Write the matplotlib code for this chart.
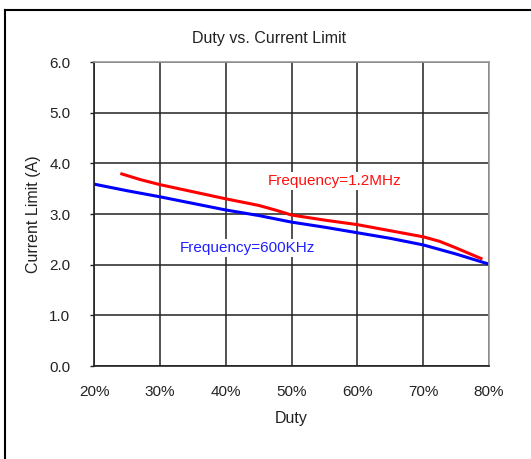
import matplotlib.pyplot as plt
from matplotlib.lines import Line2D
from matplotlib.ticker import FuncFormatter

plt.rcParams['font.family'] = ['Liberation Sans', 'DejaVu Sans']

# values
duty_600k = [20, 25, 30, 35, 40, 45, 50, 55, 60, 65, 70, 75, 80]
limit_600k = [3.59, 3.46, 3.34, 3.21, 3.08, 2.97, 2.84, 2.74, 2.63, 2.52, 2.39, 2.21, 2.01]

duty_1m2 = [24, 27, 30, 35, 40, 45, 47.5, 50, 55, 60, 65, 70, 72.5, 75, 79]
limit_1m2 = [3.80, 3.68, 3.58, 3.44, 3.30, 3.17, 3.08, 2.98, 2.88, 2.79, 2.67, 2.55, 2.46, 2.33, 2.11]

x_ticks = [20, 30, 40, 50, 60, 70, 80]
y_ticks = [0, 1, 2, 3, 4, 5, 6]

W, H = 531, 459
fig = plt.figure(figsize=(W / 100, H / 100), dpi=100)
ax = fig.add_axes([94 / W, 1 - 366 / H, (489 - 94) / W, (366 - 62) / H])

ax.plot(duty_600k, limit_600k, color='#0000ff', lw=2.2, solid_capstyle='butt')
ax.plot(duty_1m2, limit_1m2, color='#ff0000', lw=2.2, solid_capstyle='butt')

ax.set_xlim(20, 80)
ax.set_ylim(0, 6)
ax.set_xticks(x_ticks)
ax.set_yticks(y_ticks)
ax.xaxis.set_major_formatter(FuncFormatter(lambda v, p: f'{v:.0f}%'))
ax.yaxis.set_major_formatter(FuncFormatter(lambda v, p: f'{v:.1f}'))
ax.grid(True, color='#222222', lw=1.1)
ax.set_axisbelow(True)
ax.tick_params(axis='x', length=0, pad=14, labelsize=11, colors='#222222')
ax.tick_params(axis='y', length=3, width=1, pad=14, labelsize=11, colors='#222222')

for side in ['left', 'bottom']:
    ax.spines[side].set_color('#222222')
    ax.spines[side].set_linewidth(1.2)
for side in ['top', 'right']:
    ax.spines[side].set_color('#999999')
    ax.spines[side].set_linewidth(1.2)

ax.set_xlabel('Duty', fontsize=11.5, labelpad=8, color='#222222')
ax.set_ylabel('Current Limit (A)', fontsize=11.5, labelpad=6, color='#222222')

box = dict(facecolor='white', edgecolor='none', pad=1.5)
ax.text(46.4, 3.65, 'Frequency=1.2MHz', color='#ff1010', fontsize=11, va='center', bbox=box)
ax.text(33.0, 2.33, 'Frequency=600KHz', color='#2020ff', fontsize=11, va='center', bbox=box)

fig.text(269 / W, 1 - 38 / H, 'Duty vs. Current Limit', ha='center', va='center',
         fontsize=11.5, color='#222222')

# outer frame
fig.add_artist(Line2D([5 / W, 5 / W], [0, 1 - 10 / H], color='black', lw=1.5))
fig.add_artist(Line2D([5 / W, 1], [1 - 10 / H, 1 - 10 / H], color='black', lw=1.5))

fig.savefig('out.png', dpi=100)
